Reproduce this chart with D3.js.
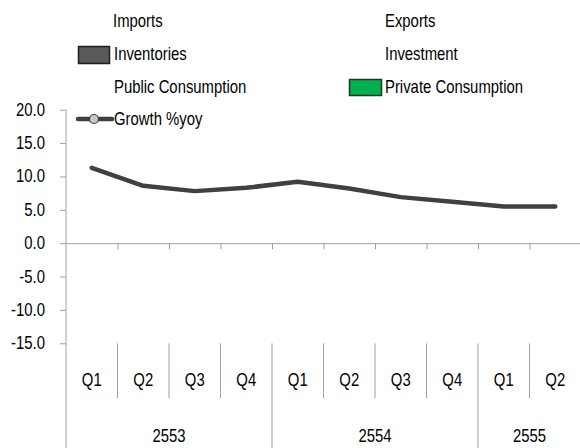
<!DOCTYPE html>
<html>
<head>
<meta charset="utf-8">
<script src="https://cdn.jsdelivr.net/npm/d3@7"></script>
<style>
  html, body { margin: 0; padding: 0; background: #fff; }
  svg { display: block; }
  text { font-family: "Liberation Sans", Arial, sans-serif; font-size: 17.5px; fill: #000; }
</style>
</head>
<body>
<svg id="chart" width="580" height="448"></svg>
<script>
// ---- data ----
const quarters = ["Q1","Q2","Q3","Q4","Q1","Q2","Q3","Q4","Q1","Q2"];
const years = ["2553","2554","2555"];
const yearSpans = [4, 4, 2];
const growth = [11.3, 8.6, 7.8, 8.3, 9.2, 8.2, 6.9, 6.2, 5.5, 5.5];
const yTicks = [-15, -10, -5, 0, 5, 10, 15, 20];
const legendLeft = ["Imports", "Inventories", "Public Consumption", "Growth %yoy"];
const legendRight = ["Exports", "Investment", "Private Consumption"];

const SX = 0.85; // horizontal text compression
const svg = d3.select("#chart");
const left = 66, right = 581, yTop = 109.7, yBot = 343.3;

const x = d3.scaleBand().domain(d3.range(quarters.length)).range([left, right]).padding(0);
const xB = d3.scaleLinear().domain([0, quarters.length]).range([left, right]);
const y = d3.scaleLinear().domain([-15, 20]).range([yBot, yTop]);

const axisColor = "#a0a0a0";

function txt(g, s, tx, ty, anchor) {
  return g.append("text")
    .attr("transform", `translate(${tx},${ty}) scale(${SX},1)`)
    .attr("text-anchor", anchor || "start")
    .text(s);
}

// ---- y axis ----
const fmt = d => d.toFixed(1);
const yAxis = svg.append("g").attr("transform", `translate(${left},0)`)
  .call(d3.axisLeft(y).tickValues(yTicks).tickSize(6).tickFormat(fmt));
yAxis.select(".domain").remove();
yAxis.selectAll(".tick line").attr("stroke", axisColor);
yAxis.selectAll(".tick text")
  .attr("x", null).attr("dy", null)
  .attr("transform", `translate(-21,5.5) scale(${SX},1)`)
  .style("font-family", "'Liberation Sans', Arial, sans-serif")
  .style("font-size", "17.5px")
  .attr("fill", "#000");
svg.append("line")
  .attr("x1", left).attr("x2", left).attr("y1", yTop).attr("y2", 448)
  .attr("stroke", axisColor).attr("stroke-width", 1);

// ---- x axis at zero ----
const xAxis = svg.append("g").attr("transform", `translate(0,${y(0)})`)
  .call(d3.axisBottom(xB).tickValues(d3.range(1, quarters.length)).tickSize(6).tickFormat(""));
xAxis.select(".domain").attr("stroke", axisColor).attr("d", `M${left},0.5H${right}`);
xAxis.selectAll(".tick line").attr("stroke", axisColor);

// ---- category labels ----
const cat = svg.append("g");
const yearStarts = [];
let acc = 0;
yearSpans.forEach(s => { yearStarts.push(acc); acc += s; });
d3.range(1, quarters.length).forEach(i => {
  const isYear = yearStarts.includes(i);
  cat.append("line")
    .attr("x1", xB(i)).attr("x2", xB(i))
    .attr("y1", yBot).attr("y2", isYear ? 448 : 398)
    .attr("stroke", axisColor).attr("stroke-width", 1);
});
quarters.forEach((q, i) => {
  txt(cat, q, x(i) + x.bandwidth() / 2, 386, "middle");
});
years.forEach((yr, j) => {
  const a = yearStarts[j], b = a + yearSpans[j];
  txt(cat, yr, (xB(a) + xB(b)) / 2, 442, "middle");
});

// ---- line ----
const line = d3.line().x((d, i) => x(i) + x.bandwidth() / 2).y(d => y(d));
svg.append("path").datum(growth)
  .attr("d", line)
  .attr("fill", "none")
  .attr("stroke", "#404040")
  .attr("stroke-width", 4.5)
  .attr("stroke-linejoin", "round")
  .attr("stroke-linecap", "round");

// ---- legend ----
const lg = svg.append("g");
const rowY = [27, 60, 93, 125];
legendLeft.forEach((s, i) => txt(lg, s, i === 0 ? 113 : 114, rowY[i]));
legendRight.forEach((s, i) => txt(lg, s, 385, rowY[i]));
lg.append("rect").attr("x", 78.5).attr("y", 46.5).attr("width", 31).attr("height", 17)
  .attr("fill", "#595959").attr("stroke", "#1f1f1f").attr("stroke-width", 1.5);
lg.append("rect").attr("x", 349.5).attr("y", 79.5).attr("width", 32).attr("height", 16)
  .attr("fill", "#00b050").attr("stroke", "#1a3a1a").attr("stroke-width", 1.5);
lg.append("line").attr("x1", 78).attr("x2", 112).attr("y1", 119).attr("y2", 119)
  .attr("stroke", "#404040").attr("stroke-width", 4.5).attr("stroke-linecap", "round");
lg.append("circle").attr("cx", 94).attr("cy", 119).attr("r", 4.5)
  .attr("fill", "#c8c8c8").attr("stroke", "#404040").attr("stroke-width", 1.2);
</script>
</body>
</html>
